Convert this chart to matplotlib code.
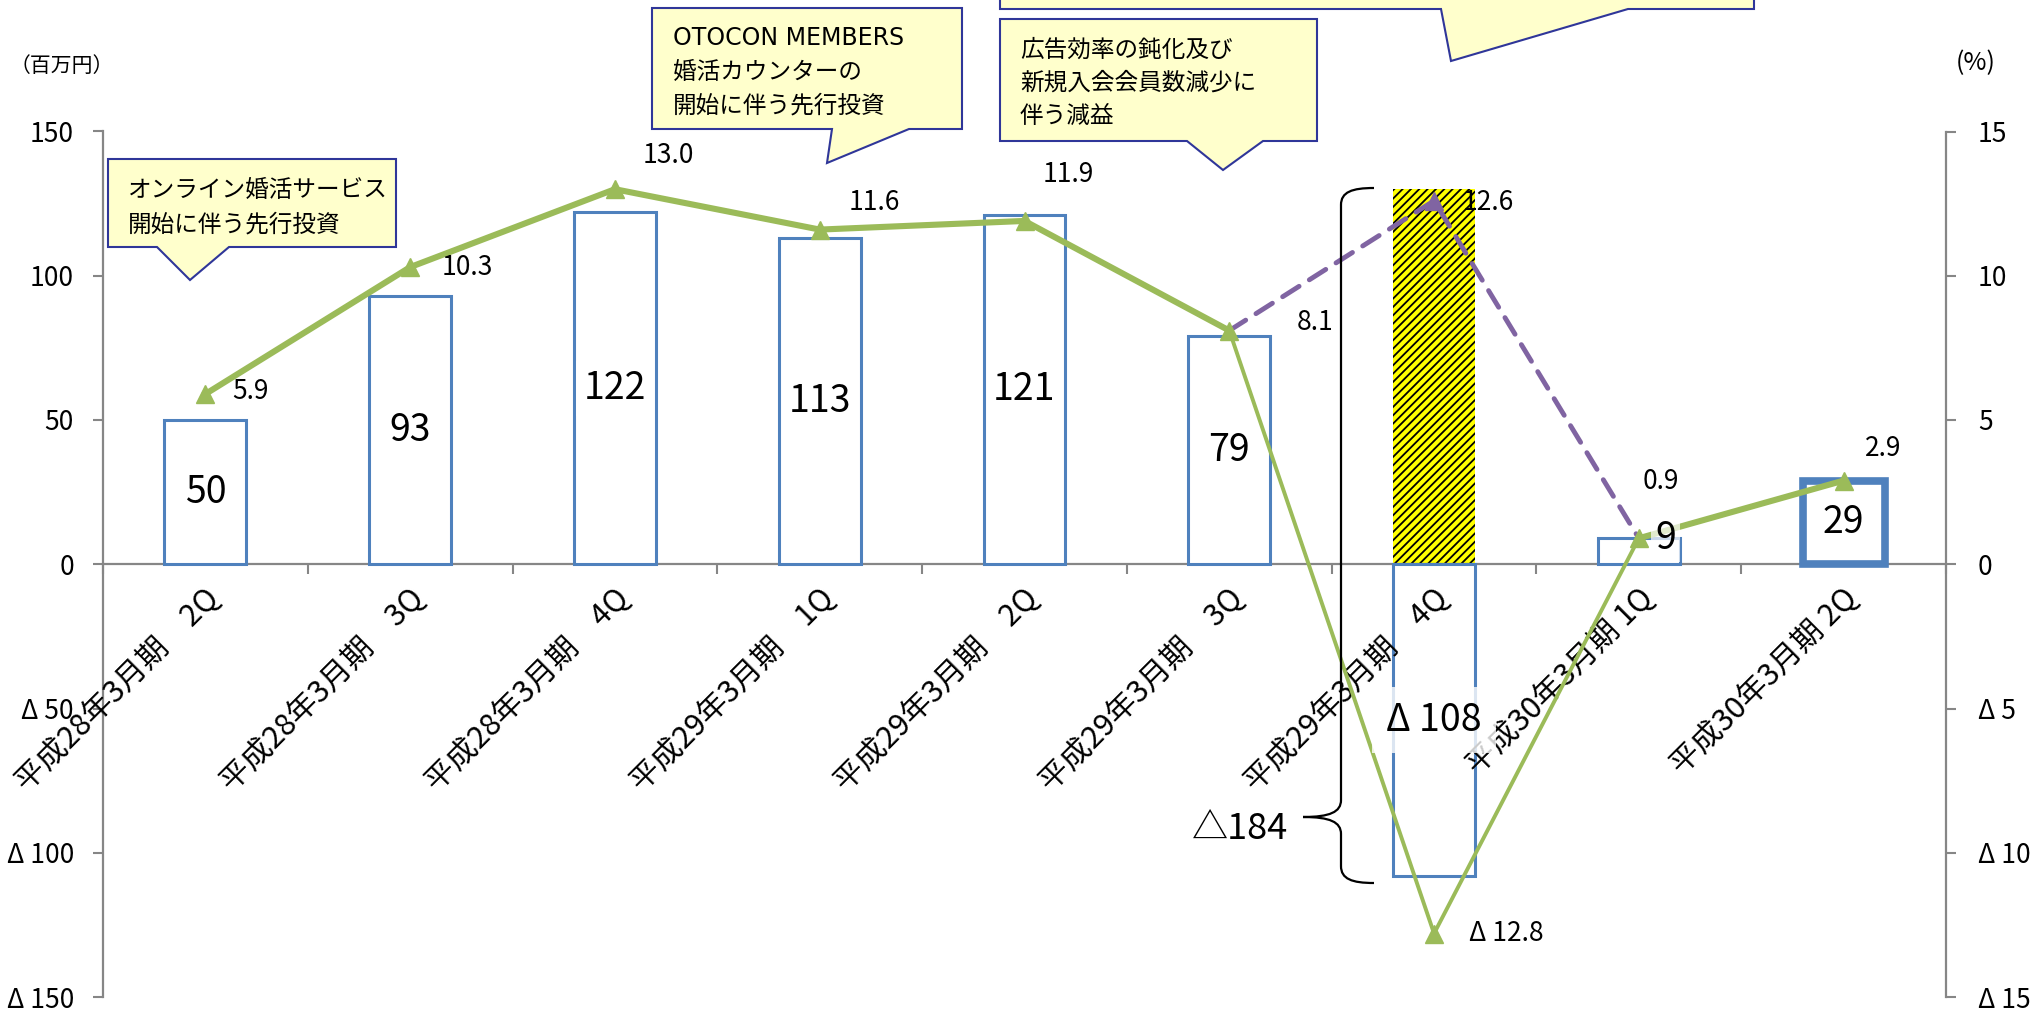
import matplotlib
matplotlib.use("Agg")
import matplotlib.pyplot as plt
import matplotlib.transforms as mtransforms
from matplotlib.patches import Polygon, PathPatch
from matplotlib.path import Path
from matplotlib.ticker import FixedLocator, FuncFormatter
import numpy as np

plt.rcParams['font.family'] = ['Noto Sans CJK JP', 'DejaVu Sans']
plt.rcParams['hatch.linewidth'] = 1.3

# 四半期ごとの営業利益（百万円）と営業利益率（%）
quarters = ["平成28年3月期　2Q", "平成28年3月期　3Q", "平成28年3月期　4Q",
            "平成29年3月期　1Q", "平成29年3月期　2Q", "平成29年3月期　3Q",
            "平成29年3月期　4Q", "平成30年3月期 1Q", "平成30年3月期 2Q"]
profit = [50, 93, 122, 113, 121, 79, -108, 9, 29]
margin = [5.9, 10.3, 13.0, 11.6, 11.9, 8.1, -12.8, 0.9, 2.9]

# 4Q の計画値（破線）と差額
plan_x = [5, 6, 7]
plan_margin = [8.1, 12.6, 0.9]
plan_profit_4q = 130
gap_label = "△184"

notes = [
    ["オンライン婚活サービス", "開始に伴う先行投資"],
    ["OTOCON MEMBERS", "婚活カウンターの", "開始に伴う先行投資"],
    ["広告効率の鈍化及び", "新規入会会員数減少に", "伴う減益"],
]

BLUE = '#4F81BD'
GREEN = '#9BBB59'
PURPLE = '#8064A2'
GRAY = '#868686'
NAVY = '#2F3699'
NOTE_BG = '#FFFFCC'

W, H = 2041, 1010
fig = plt.figure(figsize=(W / 100, H / 100), dpi=100)
ax = fig.add_axes([103 / W, 1 - 997 / H, (1946 - 103) / W, (997 - 131.5) / H])
ax2 = ax.twinx()

x = np.arange(len(quarters))


def neg(v, fmt="{:g}"):
    # negative values are written with a leading delta
    return "Δ " + fmt.format(abs(v)) if v < 0 else fmt.format(v)


# bars
ax.bar(6, plan_profit_4q, width=0.4, facecolor='#FFFF00', edgecolor='black',
       linewidth=0, hatch='////', zorder=2)
widths = [2.2] * len(profit)
widths[-1] = 5.5
ax.bar(x, profit, width=0.4, facecolor='white', edgecolor=BLUE,
       linewidth=widths, zorder=3)

ax.set_xlim(-0.5, len(quarters) - 0.5)
ax.set_ylim(-150, 150)
ax2.set_ylim(-15, 15)

# axes styling
for s in ['top', 'right']:
    ax.spines[s].set_visible(False)
for s in ['top', 'left', 'bottom']:
    ax2.spines[s].set_visible(False)
ax.spines['bottom'].set_position(('data', 0))
ax.spines['bottom'].set_color(GRAY)
ax.spines['left'].set_color(GRAY)
ax2.spines['right'].set_color(GRAY)
for sp in [ax.spines['bottom'], ax.spines['left'], ax2.spines['right']]:
    sp.set_linewidth(1.6)

ax.yaxis.set_major_locator(FixedLocator(np.arange(-150, 151, 50)))
ax.yaxis.set_major_formatter(FuncFormatter(lambda v, p: neg(int(round(v)), "{}")))
ax2.yaxis.set_major_locator(FixedLocator(np.arange(-15, 16, 5)))
ax2.yaxis.set_major_formatter(FuncFormatter(lambda v, p: neg(int(round(v)), "{}")))
ax.tick_params(axis='y', direction='out', length=7, width=1.5, color=GRAY,
               labelsize=19, pad=14)
ax2.tick_params(axis='y', direction='out', length=7, width=1.5, color=GRAY,
                labelsize=19, pad=16)
ax.xaxis.set_major_locator(FixedLocator(np.arange(-0.5, len(quarters), 1)))
ax.tick_params(axis='x', direction='out', length=7, width=1.5, color=GRAY,
               labelbottom=False)

# category labels, rotated under the zero line
lab_tr = mtransforms.offset_copy(ax.transData, fig=fig, x=-2, y=-18, units='dots')
for i, q in enumerate(quarters):
    ax.text(i, 0, q, transform=lab_tr, rotation=45, rotation_mode='anchor',
            ha='right', va='top', fontsize=22)

# margin lines
thick = np.array(margin, dtype=float)
thick[6] = np.nan
ax2.plot(plan_x, plan_margin, color=PURPLE, lw=3.5, ls=(0, (4, 2.5)),
         dash_capstyle='round', zorder=3)
ax2.plot([6], [plan_margin[1]], marker='^', ms=13, color=PURPLE, zorder=3)
ax2.plot(x[5:8], margin[5:8], color=GREEN, lw=2.8, zorder=4)
ax2.plot(x, thick, color=GREEN, lw=4.4, zorder=4)
ax2.plot(x, margin, ls='none', marker='^', ms=13, color=GREEN, zorder=4)

# margin labels
m_off = [(45, -3), (57, 0), (53, -34), (55, -27), (44, -46), (86, -8),
         (72, 0), (22, -57), (40, -32)]
for i, (v, (dx, dy)) in enumerate(zip(margin, m_off)):
    ax2.annotate(neg(v, "{:.1f}"), (i, v), xytext=(dx, -dy),
                 textcoords='offset pixels', ha='center', va='center',
                 fontsize=19, zorder=6)
ax2.annotate("{:.1f}".format(plan_margin[1]), (6, plan_margin[1]),
             xytext=(54, -2), textcoords='offset pixels', ha='center',
             va='center', fontsize=19, zorder=6)

# profit labels inside the bars
for i, v in enumerate(profit):
    yv, dx = v / 2, 0
    box = None
    if i == 2:
        box = dict(facecolor='white', edgecolor='none', alpha=0.85, pad=6)
    if i == 6:
        box = dict(facecolor='white', edgecolor='none', alpha=0.8, pad=10)
    if i == 7:
        yv, dx = v, 27
        box = dict(facecolor='white', edgecolor='none', alpha=0.7, pad=3)
    tr = mtransforms.offset_copy(ax.transData, fig=fig, x=dx, y=0, units='dots')
    ax2.text(i, yv, neg(v, "{}"), transform=tr, ha='center', va='center',
             fontsize=27, bbox=box, zorder=5)


def fig_xy(px, py):
    return px / W, 1 - py / H


def callout(box, base, tip, lines, tx, first, step, first_family=None):
    x0, y0, x1, y1 = box
    pts = [(x0, y0), (x1, y0), (x1, y1), (base[1], y1), tip, (base[0], y1), (x0, y1)]
    fig.patches.append(Polygon([fig_xy(*p) for p in pts], closed=True,
                               transform=fig.transFigure, facecolor=NOTE_BG,
                               edgecolor=NAVY, lw=1.5, zorder=8))
    for k, line in enumerate(lines):
        kw = {}
        if k == 0 and first_family:
            kw['family'] = first_family
        fig.text(tx / W, 1 - (first + k * step) / H, line, ha='left',
                 va='baseline', fontsize=17, zorder=9, **kw)


callout((108, 159, 396, 247), (157, 229), (190, 280), notes[0], 128, 197, 35)
callout((652, 8, 962, 129), (832, 909), (827, 163), notes[1], 673, 45, 34,
        first_family=['DejaVu Sans'])
callout((1000, 19, 1317, 141), (1187, 1263), (1223, 170), notes[2], 1020, 57, 33)
callout((1000, -20, 1754, 9), (1441, 1628), (1451, 61), [], 0, 0, 0)

# brace spanning the 4Q drop
brace_pts = [(1374, 188), (1352, 188), (1341, 192), (1341, 205),
             (1341, 800),
             (1341, 812), (1330, 817), (1303, 817),
             (1330, 817), (1341, 822), (1341, 834),
             (1341, 866),
             (1341, 879), (1352, 883), (1374, 883)]
codes = [Path.MOVETO, Path.CURVE4, Path.CURVE4, Path.CURVE4, Path.LINETO,
         Path.CURVE4, Path.CURVE4, Path.CURVE4, Path.CURVE4, Path.CURVE4,
         Path.CURVE4, Path.LINETO, Path.CURVE4, Path.CURVE4, Path.CURVE4]
fig.patches.append(PathPatch(Path([fig_xy(*p) for p in brace_pts], codes),
                             transform=fig.transFigure, facecolor='none',
                             edgecolor='black', lw=1.6, zorder=7))
fig.text(1240 / W, 1 - 829 / H, gap_label, ha='center', va='center', fontsize=26)

# units
fig.text(10 / W, 1 - 66 / H, "（百万円）", ha='left', va='center', fontsize=15)
fig.text(1956 / W, 1 - 63 / H, "(%)", ha='left', va='center', fontsize=18)

fig.savefig("out.png", dpi=100)
